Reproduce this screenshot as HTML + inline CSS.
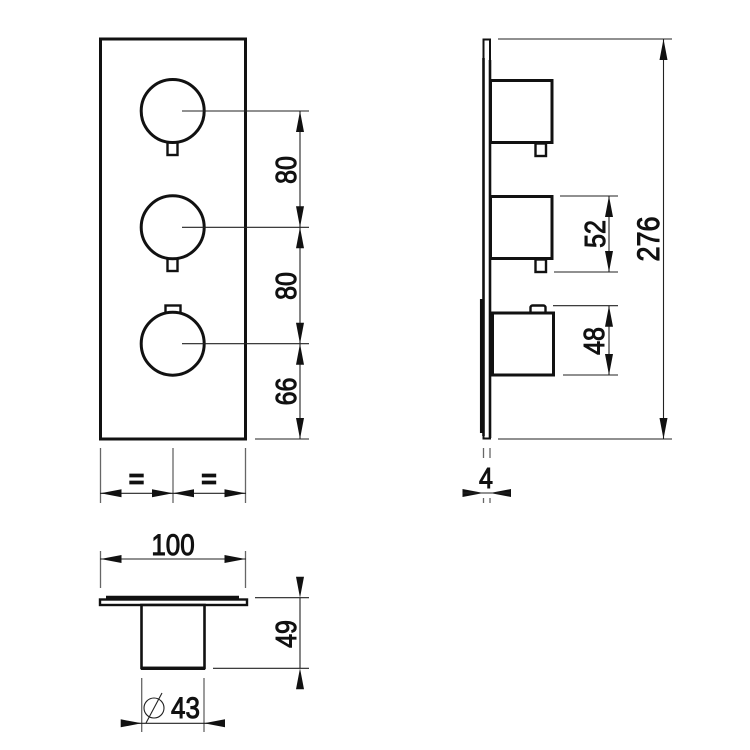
<!DOCTYPE html>
<html><head><meta charset="utf-8"><style>
html,body{margin:0;padding:0;background:#fff}
svg{display:block}
text{font-family:"Liberation Sans",sans-serif;fill:#111;stroke:#111;stroke-width:.85}
.k{stroke:#111;stroke-width:3;fill:none}
.m{stroke:#111;stroke-width:2.4;fill:#fff}
.t{stroke:#222;stroke-width:1.1;fill:none}
.g{stroke:#666;stroke-width:1.3;fill:none}
.a{fill:#111;stroke:none}
</style></head><body>
<svg width="750" height="750" viewBox="0 0 750 750" xmlns="http://www.w3.org/2000/svg">
<!-- front view -->
<rect class="k" x="100.5" y="39" width="145" height="400"/>
<rect class="m" x="167.5" y="142" width="10" height="13"/>
<rect class="m" x="167.5" y="258" width="10" height="13"/>
<rect class="m" x="165.5" y="305.5" width="15" height="8"/>
<circle class="k" cx="172.7" cy="111" r="31.5" style="fill:#fff"/>
<circle class="k" cx="172.7" cy="227.3" r="31.5" style="fill:#fff"/>
<circle class="k" cx="172.7" cy="343.7" r="31.5" style="fill:#fff"/>
<!-- front dims -->
<path class="t" d="M182 111H309M182 227.3H309M182 343.7H309M255 439H309M300 111V439"/>
<path class="a" d="M300 111l-4 21h8zM300 227.3l-4-21h8zM300 227.3l-4 21h8zM300 343.7l-4-21h8zM300 343.7l-4 21h8zM300 439l-4-21h8z"/>
<text transform="translate(296,170) rotate(-90) scale(1,1.15)" text-anchor="middle" font-size="25">80</text>
<text transform="translate(296,286) rotate(-90) scale(1,1.15)" text-anchor="middle" font-size="25">80</text>
<text transform="translate(296,391.5) rotate(-90) scale(1,1.15)" text-anchor="middle" font-size="25">66</text>
<!-- equals -->
<path class="g" d="M100.5 448V503M173 448V503M245.5 448V503"/>
<path class="t" d="M100 493.3H246"/>
<path class="a" d="M100.5 493.3l21-4v8zM173 493.3l-21-4v8zM173 493.3l21-4v8zM245.5 493.3l-21-4v8z"/>
<text x="136.5" y="488" text-anchor="middle" font-size="27" font-weight="bold">=</text>
<text x="209" y="488" text-anchor="middle" font-size="27" font-weight="bold">=</text>
<!-- side view -->
<path class="k" d="M483.5 58V436" style="stroke-width:2.6"/>
<path class="k" d="M481.7 299V433" style="stroke-width:3.5"/>
<path class="k" d="M483.5 39.5H490V438.5H483.5V39.5Z" style="stroke-width:2"/>
<path class="k" d="M490 60V438" style="stroke-width:2.6"/>
<rect class="k" x="490.5" y="80.5" width="61.5" height="62" style="fill:#fff"/>
<rect class="m" x="535.5" y="143.5" width="10.5" height="12.5"/>
<rect class="k" x="490.5" y="196.5" width="61.5" height="62" style="fill:#fff"/>
<rect class="m" x="535.5" y="259.5" width="10.5" height="12.5"/>
<rect class="m" x="530.5" y="305.5" width="15" height="8" rx="2"/>
<rect class="k" x="491.5" y="313" width="62" height="62" style="fill:#fff"/>
<path class="k" d="M492 313V375" style="stroke-width:4"/>
<!-- side dims -->
<path class="t" d="M498 39H672M498 439H672M663.5 39V439"/>
<path class="a" d="M663.5 39l-4 21h8zM663.5 439l-4-21h8z"/>
<text transform="translate(659,239) rotate(-90) scale(1,1.15)" text-anchor="middle" font-size="27">276</text>
<path class="t" d="M560 196H618M554 272H618M609 196V272"/>
<path class="a" d="M609 196l-4 21h8zM609 272l-4-21h8z"/>
<text transform="translate(605,234) rotate(-90) scale(1,1.15)" text-anchor="middle" font-size="25">52</text>
<path class="t" d="M553 305.7H618M563 375H618M609 305.7V375"/>
<path class="a" d="M609 305.7l-4 21h8zM609 375l-4-21h8z"/>
<text transform="translate(604,341) rotate(-90) scale(1,1.15)" text-anchor="middle" font-size="25">48</text>
<!-- 4 -->
<path class="g" d="M483.5 448V458M490 448V458M483.5 498V503M490 498V503"/>
<path class="a" d="M483.5 493l-21-4v8zM490 493l21-4v8z"/>
<path class="t" d="M463 493H510"/>
<text transform="translate(486,488) scale(1,1.15)" text-anchor="middle" font-size="25">4</text>
<!-- bottom view -->
<rect class="m" x="100" y="599.5" width="147" height="5.5"/>
<path class="k" d="M106 597.5H239" style="stroke-width:3.6"/>
<rect class="k" x="141.5" y="605" width="63" height="63" style="stroke-width:2.6;fill:#fff"/>
<path class="k" d="M141 668.3H205" style="stroke-width:3.4"/>
<path class="g" d="M100.5 551V588M245.5 551V588"/>
<path class="t" d="M100 559H246"/>
<path class="a" d="M100.5 559l21-4v8zM245.5 559l-21-4v8z"/>
<text transform="translate(173,555) scale(1,1.15)" text-anchor="middle" font-size="26">100</text>
<path class="t" d="M255 597.7H309M213 668.3H309M300 597.7V668.3"/>
<path class="a" d="M300 597.7l-4-21h8zM300 668.3l-4 21h8z"/>
<text transform="translate(296,634) rotate(-90) scale(1,1.15)" text-anchor="middle" font-size="25">49</text>
<path class="g" d="M141.7 678V732M204 678V732"/>
<path class="t" d="M121 723.3H225"/>
<path class="a" d="M141.7 723.3l-21-4v8zM204 723.3l21-4v8z"/>
<circle class="t" cx="154" cy="708" r="10"/>
<path class="t" d="M162 693L146 723"/>
<text transform="translate(185.5,718) scale(1,1.15)" text-anchor="middle" font-size="26">43</text>
</svg>
</body></html>
